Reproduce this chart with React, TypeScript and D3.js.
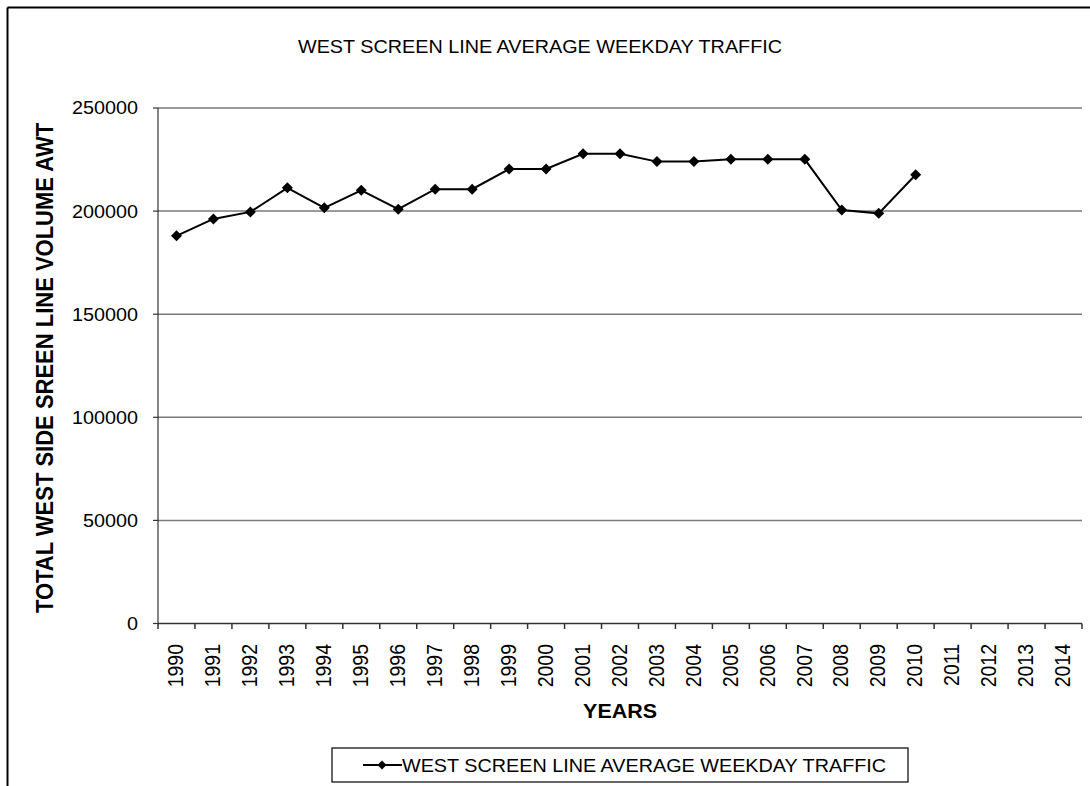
import React from "react";
import * as d3 from "d3";

const years: string[] = [
  "1990","1991","1992","1993","1994","1995","1996","1997","1998","1999",
  "2000","2001","2002","2003","2004","2005","2006","2007","2008","2009",
  "2010","2011","2012","2013","2014",
];
const traffic: (number | null)[] = [
  188000, 196200, 199600, 211300, 201600, 210100, 200900, 210600, 210600, 220400,
  220400, 227800, 227800, 224000, 224000, 225100, 225100, 225100, 200500, 198900,
  217600, null, null, null, null,
];
const yTicks: number[] = [0, 50000, 100000, 150000, 200000, 250000];
const titleText = "WEST SCREEN LINE AVERAGE WEEKDAY TRAFFIC";
const yTitle = "TOTAL WEST SIDE SREEN LINE VOLUME AWT";
const xTitle = "YEARS";
const legendText = "WEST SCREEN LINE AVERAGE WEEKDAY TRAFFIC";

const W = 1090;
const H = 786;
const FONT = "'Liberation Sans', Arial, Helvetica, sans-serif";
const SX = 1.1; // horizontal stretch of the scanned text

export default function App() {
  const left = 158, right = 1082, top = 108, bottom = 623.5;
  const x = d3.scaleBand<string>().domain(years).range([left, right]).paddingInner(0).paddingOuter(0);
  const y = d3.scaleLinear().domain([0, 250000]).range([bottom, top]);
  const cx = (yr: string) => (x(yr) as number) + x.bandwidth() / 2;

  const pts = years
    .map((yr, i) => ({ yr, v: traffic[i] }))
    .filter((d) => d.v !== null) as { yr: string; v: number }[];

  const line = d3
    .line<{ yr: string; v: number }>()
    .x((d) => cx(d.yr))
    .y((d) => y(d.v));

  const diamond = (px: number, py: number, r = 5.5) =>
    `M${px},${py - r}L${px + r},${py}L${px},${py + r}L${px - r},${py}Z`;

  const boundaries = years.map((yr) => x(yr) as number).concat([right]);

  return (
    <svg
      width={W}
      height={H}
      style={{ position: "absolute", left: 0, top: 0, background: "#fff" }}
      fontFamily={FONT}
    >
      <rect x={0} y={0} width={W} height={H} fill="#fff" />
      {/* outer frame */}
      <line x1={7.5} y1={7.5} x2={W} y2={7.5} stroke="#000" strokeWidth={2} />
      <line x1={7.5} y1={7.5} x2={7.5} y2={H} stroke="#000" strokeWidth={2} />

      {/* title */}
      <text
        transform={`translate(${540},${53}) scale(${SX},1)`}
        textAnchor="middle"
        fontSize={18}
        fill="#000"
      >
        {titleText}
      </text>

      {/* gridlines */}
      {yTicks
        .filter((t) => t > 0)
        .map((t) => (
          <line key={"g" + t} x1={left} x2={right} y1={y(t)} y2={y(t)} stroke="#7a7a7a" strokeWidth={1.5} />
        ))}

      {/* y axis */}
      <line x1={left} x2={left} y1={top} y2={bottom} stroke="#333" strokeWidth={1.2} />
      {yTicks.map((t) => (
        <g key={"yt" + t}>
          <line x1={left - 5} x2={left} y1={y(t)} y2={y(t)} stroke="#333" strokeWidth={1.2} />
          <text
            transform={`translate(${138},${y(t)}) scale(${SX},1)`}
            textAnchor="end"
            dy="0.36em"
            fontSize={18}
            fill="#000"
          >
            {t}
          </text>
        </g>
      ))}

      {/* x axis */}
      <line x1={left} x2={right} y1={bottom} y2={bottom} stroke="#333" strokeWidth={1.5} />
      {boundaries.map((b, i) => (
        <line key={"xt" + i} x1={b} x2={b} y1={bottom} y2={bottom + 5.5} stroke="#333" strokeWidth={1.5} />
      ))}
      {years.map((yr) => (
        <text
          key={"xl" + yr}
          transform={`translate(${cx(yr) - 1},${644}) scale(${SX},1) rotate(-90)`}
          textAnchor="end"
          dy="0.36em"
          fontSize={19.5}
          fill="#000"
        >
          {yr}
        </text>
      ))}

      {/* axis titles */}
      <text
        transform={`translate(${620},${718}) scale(${SX},1)`}
        textAnchor="middle"
        fontSize={19.5}
        fontWeight="bold"
        fill="#000"
      >
        {xTitle}
      </text>
      <text
        transform={`translate(${44.5},${368}) scale(${SX},1) rotate(-90)`}
        textAnchor="middle"
        dy="0.36em"
        fontSize={22}
        fontWeight="bold"
        fill="#000"
      >
        {yTitle}
      </text>

      {/* series */}
      <path d={line(pts) || ""} fill="none" stroke="#000" strokeWidth={2} />
      {pts.map((d) => (
        <path key={"m" + d.yr} d={diamond(cx(d.yr), y(d.v))} fill="#000" />
      ))}

      {/* legend */}
      <rect x={332} y={748} width={576} height={34} fill="#fff" stroke="#000" strokeWidth={1.2} />
      <line x1={363} x2={402} y1={765} y2={765} stroke="#000" strokeWidth={2} />
      <path d={diamond(382, 765, 4.5)} fill="#000" />
      <text
        transform={`translate(${402},${772}) scale(${SX},1)`}
        fontSize={18}
        fill="#000"
      >
        {legendText}
      </text>
    </svg>
  );
}
